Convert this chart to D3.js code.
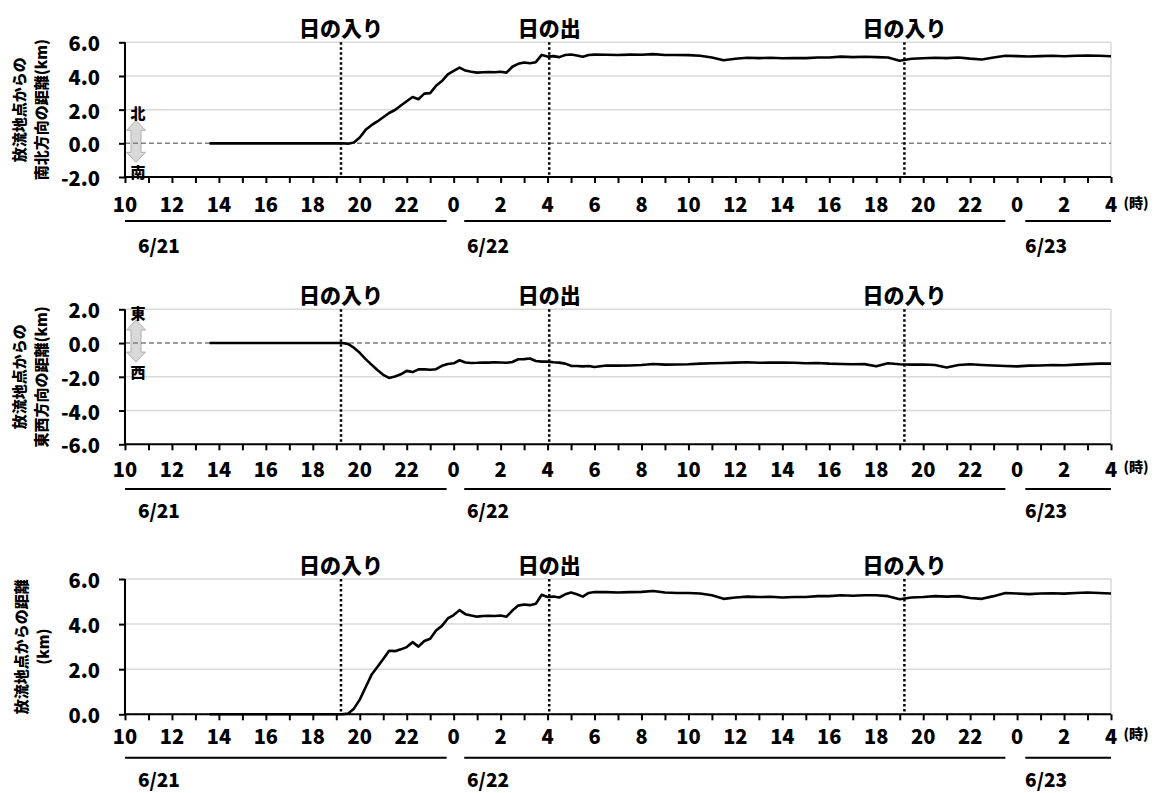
<!DOCTYPE html>
<html>
<head>
<meta charset="utf-8">
<script src="https://cdn.jsdelivr.net/npm/d3@7"></script>
<style>
body { margin: 0; background: #fff; }
text { font-family: "Noto Sans CJK JP", "Noto Sans", sans-serif; font-weight: 900; fill: #000; }
</style>
</head>
<body>
<div class="canvas"></div>
<script>
// hours counted from 6/21 0:00
var hours = [13.6, 14, 15, 16, 17, 18, 19,
    19.25, 19.5, 19.75, 20, 20.25, 20.5, 20.75, 21, 21.25, 21.5, 21.75, 22, 22.25, 22.5, 22.75,
    23, 23.25, 23.5, 23.75, 24, 24.25, 24.5, 24.75, 25, 25.25, 25.5, 25.75, 26, 26.25, 26.5, 26.75,
    27, 27.25, 27.5, 27.75, 28, 28.25, 28.5, 28.75, 29, 29.25, 29.5, 29.75, 30,
    30.5, 31, 31.5, 32, 32.5, 33, 33.5, 34, 34.5, 35, 35.5, 36, 36.5, 37, 37.5, 38, 38.5, 39, 39.5,
    40, 40.5, 41, 41.5, 42, 42.5, 43, 43.5, 44, 44.5, 45, 45.5, 46, 46.5, 47, 47.5, 48, 48.5, 49, 49.5,
    50, 50.5, 51, 51.5, 52];

var northSouth = [0, 0, 0, 0, 0, 0, 0,
    0, -0.02, 0.05, 0.35, 0.8, 1.08, 1.3, 1.55, 1.8, 1.98, 2.25, 2.5, 2.75, 2.62, 2.95,
    2.98, 3.42, 3.7, 4.1, 4.3, 4.5, 4.32, 4.25, 4.2, 4.22, 4.24, 4.22, 4.25, 4.2, 4.55, 4.72,
    4.8, 4.76, 4.82, 5.25, 5.15, 5.18, 5.12, 5.25, 5.28, 5.22, 5.14, 5.25, 5.27,
    5.26, 5.25, 5.27, 5.26, 5.3, 5.25, 5.25, 5.24, 5.2, 5.1, 4.93, 5.02, 5.08, 5.06, 5.08, 5.05, 5.07, 5.06, 5.1,
    5.1, 5.15, 5.12, 5.14, 5.12, 5.1, 4.9, 5.02, 5.05, 5.08, 5.06, 5.1, 5.03, 4.98, 5.1, 5.2, 5.18, 5.16, 5.18, 5.2,
    5.17, 5.2, 5.22, 5.2, 5.17];

var eastWest = [0, 0, 0, 0, 0, 0, 0,
    0, -0.05, -0.28, -0.58, -0.95, -1.28, -1.6, -1.88, -2.07, -1.98, -1.85, -1.65, -1.72, -1.56, -1.55,
    -1.58, -1.55, -1.35, -1.24, -1.2, -1.02, -1.15, -1.18, -1.17, -1.15, -1.16, -1.14, -1.15, -1.17, -1.12, -0.96,
    -0.95, -0.92, -1.06, -1.1, -1.1, -1.14, -1.16, -1.22, -1.35, -1.36, -1.38, -1.36, -1.42,
    -1.33, -1.34, -1.33, -1.3, -1.24, -1.28, -1.27, -1.26, -1.22, -1.2, -1.18, -1.16, -1.14, -1.17, -1.16, -1.15, -1.17, -1.2, -1.18,
    -1.22, -1.24, -1.26, -1.25, -1.38, -1.2, -1.26, -1.28, -1.27, -1.3, -1.45, -1.3, -1.26, -1.3, -1.33, -1.36, -1.38, -1.34, -1.33, -1.3,
    -1.32, -1.28, -1.25, -1.22, -1.22];

var distance = [0, 0, 0, 0, 0, 0, 0,
    0, 0.03, 0.25, 0.65, 1.2, 1.75, 2.1, 2.45, 2.82, 2.8, 2.88, 2.98, 3.2, 3.0, 3.25,
    3.35, 3.72, 3.92, 4.25, 4.4, 4.62, 4.44, 4.38, 4.33, 4.36, 4.37, 4.36, 4.38, 4.33, 4.6, 4.82,
    4.87, 4.84, 4.9, 5.3, 5.2, 5.22, 5.18, 5.32, 5.4, 5.32, 5.22, 5.38, 5.42,
    5.42, 5.4, 5.42, 5.43, 5.47, 5.4, 5.38, 5.38, 5.36, 5.28, 5.12, 5.18, 5.22, 5.2, 5.21, 5.18, 5.2, 5.2, 5.24,
    5.24, 5.28, 5.26, 5.28, 5.28, 5.24, 5.1, 5.18, 5.2, 5.24, 5.22, 5.24, 5.16, 5.12, 5.24, 5.38, 5.36, 5.33, 5.36, 5.37,
    5.35, 5.38, 5.4, 5.38, 5.36];

var tickHours = [10, 12, 14, 16, 18, 20, 22, 24, 26, 28, 30, 32, 34, 36, 38, 40, 42, 44, 46, 48, 50, 52];
var eventTimes = [19.2, 28.07, 43.2];
var eventNames = ["日の入り", "日の出", "日の入り"];
var dateNames = ["6/21", "6/22", "6/23"];
var dateStarts = [10, 24.45, 48.35];
var dateEnds = [23.7, 47.5, 52];
var dateLabelAt = [10.55, 24.57, 48.34];

var svg = d3.select(".canvas").append("svg"),
    width = 1157,
    height = 793;
svg.attr("width", width).attr("height", height);

var x = d3.scaleLinear().domain([10, 52]).range([125, 1111]);

var panels = [
    {values: northSouth, top: 42.3, bottom: 177, domain: [-2, 6], ticks: [-2, 0, 2, 4, 6],
     title: ["放流地点からの", "南北方向の距離(km)"], titleX: [18, 40],
     arrow: ["北", "南"], labelDy: 26.6, lineDy: 44, dateDy: 67},
    {values: eastWest, top: 309.3, bottom: 444.3, domain: [-6, 2], ticks: [-6, -4, -2, 0, 2],
     title: ["放流地点からの", "東西方向の距離(km)"], titleX: [18, 40],
     arrow: ["東", "西"], labelDy: 24, lineDy: 44.7, dateDy: 65.5},
    {values: distance, top: 579, bottom: 714.3, domain: [0, 6], ticks: [0, 2, 4, 6],
     title: ["放流地点からの距離", "(km)"], titleX: [20, 42],
     arrow: null, labelDy: 20.7, lineDy: 43.4, dateDy: 64.5}
];

panels.forEach(function(p) {
    draw_panel(p);
});

function draw_panel(p) {
    var g = svg.append("g");
    var y = d3.scaleLinear().domain(p.domain).range([p.bottom, p.top]);
    var left = x.range()[0], right = x.range()[1];

    // gridlines
    g.selectAll(".grid")
        .data(p.ticks.filter(function(t) { return t !== 0 && t !== p.domain[0]; }))
        .enter().append("line")
        .attr("x1", left).attr("x2", right)
        .attr("y1", function(d) { return y(d); })
        .attr("y2", function(d) { return y(d); })
        .style("stroke", "#d9d9d9").style("stroke-width", 1.5);

    // right border
    g.append("line")
        .attr("x1", right).attr("x2", right)
        .attr("y1", p.top).attr("y2", p.bottom)
        .style("stroke", "#d9d9d9").style("stroke-width", 1.5);

    // direction arrow
    if (p.arrow) {
        var cx = 136, cy = y(0) - 2;
        var path = "M" + cx + "," + (cy - 21) +
            " L" + (cx + 9.5) + "," + (cy - 11) + " L" + (cx + 5) + "," + (cy - 11) +
            " L" + (cx + 5) + "," + (cy + 11) + " L" + (cx + 9.5) + "," + (cy + 11) +
            " L" + cx + "," + (cy + 21) +
            " L" + (cx - 9.5) + "," + (cy + 11) + " L" + (cx - 5) + "," + (cy + 11) +
            " L" + (cx - 5) + "," + (cy - 11) + " L" + (cx - 9.5) + "," + (cy - 11) + " Z";
        g.append("path").attr("d", path)
            .style("fill", "#d9d9d9").style("stroke", "#b0b0b0").style("stroke-width", 1);
        g.append("text").attr("x", 138).attr("y", y(0) - 31)
            .attr("text-anchor", "middle").attr("dominant-baseline", "central")
            .style("font-size", "15px").text(p.arrow[0]);
        g.append("text").attr("x", 138).attr("y", y(0) + 28)
            .attr("text-anchor", "middle").attr("dominant-baseline", "central")
            .style("font-size", "15px").text(p.arrow[1]);
    }

    // zero line
    g.append("line")
        .attr("x1", left).attr("x2", right)
        .attr("y1", y(0)).attr("y2", y(0))
        .style("stroke", "#808080").style("stroke-width", 1.5)
        .style("stroke-dasharray", "5,3");

    // data line
    var line = d3.line()
        .x(function(d, i) { return x(hours[i]); })
        .y(function(d) { return y(d); });
    g.append("path").datum(p.values)
        .attr("d", line)
        .style("fill", "none").style("stroke", "#000").style("stroke-width", 2.6)
        .style("stroke-linejoin", "round");

    // sunrise / sunset lines
    eventTimes.forEach(function(t, i) {
        g.append("line")
            .attr("x1", x(t)).attr("x2", x(t))
            .attr("y1", p.top).attr("y2", p.bottom)
            .style("stroke", "#000").style("stroke-width", 2.5)
            .style("stroke-dasharray", "2.5,2.5");
        g.append("text")
            .attr("x", x(t)).attr("y", p.top - 15.5)
            .attr("text-anchor", "middle").attr("dominant-baseline", "central")
            .style("font-size", "21px").text(eventNames[i]);
    });

    // y axis
    var yAxis = d3.axisLeft(y).tickValues(p.ticks).tickSize(6)
        .tickFormat(function(d) { return d3.format(".1f")(d).replace("−", "-"); });
    var ya = g.append("g").attr("transform", "translate(" + left + ",0)").call(yAxis);
    ya.select(".domain").style("stroke", "#000").style("stroke-width", 2)
        .attr("d", "M0," + p.top + "V" + p.bottom);
    ya.selectAll(".tick line").style("stroke", "#000").style("stroke-width", 2);
    ya.selectAll(".tick text").attr("x", -25).attr("dy", null)
        .attr("dominant-baseline", "central")
        .style("font-size", "20px").style("font-family", "\"Noto Sans CJK JP\", sans-serif")
        .style("font-weight", "900");

    // x axis
    var xAxis = d3.axisBottom(x).tickValues(d3.range(10, 53, 1)).tickSize(6).tickFormat("");
    var xa = g.append("g").attr("transform", "translate(0," + p.bottom + ")").call(xAxis);
    xa.select(".domain").style("stroke", "#000").style("stroke-width", 2)
        .attr("d", "M" + left + ",0H" + right);
    xa.selectAll(".tick line").style("stroke", "#000").style("stroke-width", 2);

    g.selectAll(".xlab").data(tickHours).enter().append("text")
        .attr("x", function(d) { return x(d); })
        .attr("y", p.bottom + p.labelDy)
        .attr("text-anchor", "middle").attr("dominant-baseline", "central")
        .style("font-size", "20px")
        .text(function(d) { return d % 24; });
    g.append("text")
        .attr("x", 1136).attr("y", p.bottom + p.labelDy - 2)
        .attr("text-anchor", "middle").attr("dominant-baseline", "central")
        .style("font-size", "14px").text("(時)");

    // date lines
    dateNames.forEach(function(name, i) {
        g.append("line")
            .attr("x1", x(dateStarts[i])).attr("x2", x(dateEnds[i]))
            .attr("y1", p.bottom + p.lineDy).attr("y2", p.bottom + p.lineDy)
            .style("stroke", "#000").style("stroke-width", 2);
        g.append("text")
            .attr("x", x(dateLabelAt[i])).attr("y", p.bottom + p.dateDy)
            .attr("dominant-baseline", "central")
            .style("font-size", "19px").text(name);
    });

    // y title
    var cy = (p.top + p.bottom) / 2;
    p.title.forEach(function(s, i) {
        g.append("text")
            .attr("transform", "translate(" + p.titleX[i] + "," + cy + ") rotate(-90)")
            .attr("text-anchor", "middle").attr("dominant-baseline", "central")
            .style("font-size", "15px").text(s);
    });
}
</script>
</body>
</html>
